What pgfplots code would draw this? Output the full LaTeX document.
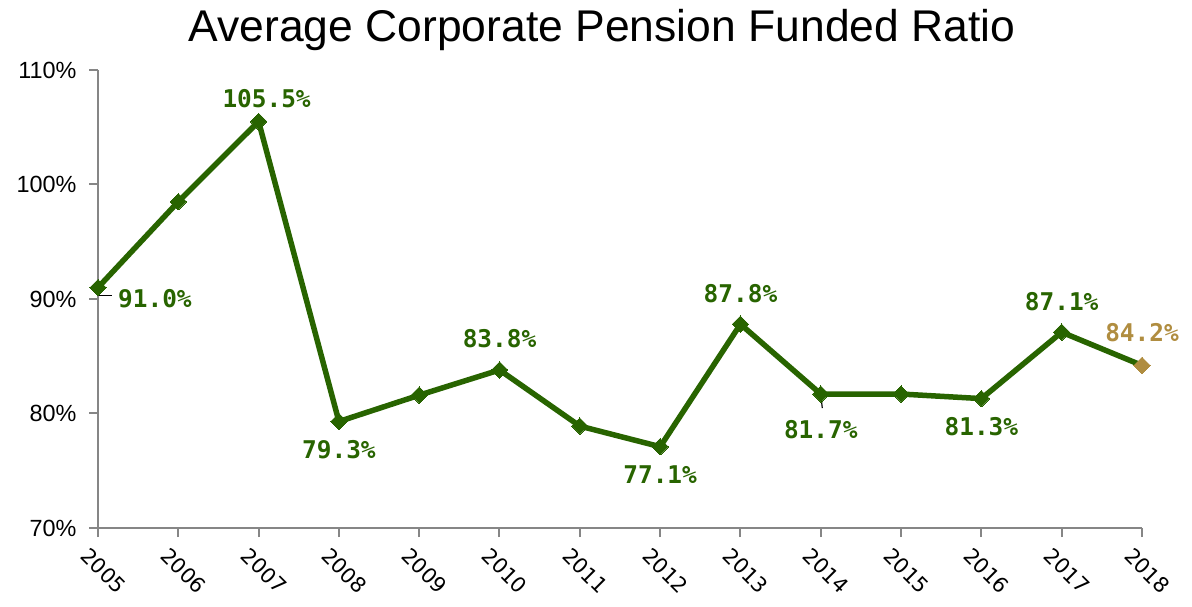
\documentclass[border=0pt]{standalone}
\usepackage{pgfplots}
\pgfplotsset{compat=1.18}
\usepackage{fontspec}
\setmainfont{Liberation Sans}
\newfontfamily\labfont{DejaVu Sans Mono}
\newfontfamily\xfont{DejaVu Sans}
\definecolor{lgreen}{RGB}{40,100,0}
\definecolor{lgold}{RGB}{176,141,64}
\definecolor{axgray}{RGB}{134,134,134}
\pgfplotsset{lab/.style={draw=none, mark=none, point meta=explicit symbolic,
  nodes near coords={\pgfplotspointmeta\%},
  nodes near coords style={anchor=base, inner sep=0pt, text=lgreen, font=\labfont\bfseries\fontsize{24.5}{25}\selectfont, #1}}}
\begin{document}
\begin{tikzpicture}
\useasboundingbox (0bp,0bp) rectangle (1192bp,607bp);
\node[anchor=base, inner sep=0pt, font=\fontsize{44.6}{46}\selectfont] at (602bp,565bp) {Average Corporate Pension Funded Ratio};
\begin{axis}[at={(98bp,79bp)}, anchor=south west, scale only axis,
  width=1044bp, height=458bp,
  xmin=2005, xmax=2018, ymin=70, ymax=110,
  axis x line*=bottom, axis y line*=left,
  axis line style={axgray, line width=2bp},
  every tick/.style={axgray, line width=2bp},
  major tick length=9bp, tick align=outside,
  xtick={2005,...,2018}, ytick={70,80,...,110},
  /pgf/number format/1000 sep={},
  /pgf/number format/assume math mode=true,
  yticklabel={\pgfmathprintnumber{\tick}\%},
  yticklabel style={font=\fontsize{23.5}{24}\selectfont, text=black, xshift=-9bp},
  xticklabel style={rotate=-45, anchor=north west, yshift=-11bp, xshift=0bp, inner sep=1bp, font=\xfont\fontsize{21}{21}\selectfont, text=black},
  clip=false,
]
% main series
\addplot[lgreen, line width=5.5bp, mark=square*, mark size=5.8bp, mark indices={1,...,13},
  mark options={rotate=45, line width=0pt, fill=lgreen, draw=lgreen}]
  table {
x y
2005 91.0
2006 98.5
2007 105.5
2008 79.3
2009 81.6
2010 83.8
2011 78.9
2012 77.1
2013 87.8
2014 81.7
2015 81.7
2016 81.3
2017 87.1
2018 84.2
};
\addplot[only marks, mark=square*, mark size=5.8bp, mark options={rotate=45, fill=lgold, draw=lgold, line width=0pt}]
  table {
x y
2018 84.2
};
% leader lines
\draw[black, line width=1.2bp] (axis cs:2005,91.0) -- ++(0bp,-8bp) -- ++(14bp,0bp);
\draw[black, line width=1.2bp] (axis cs:2014,81.7) -- ++(1.5bp,-14bp);
% labels above
\addplot[lab={yshift=22bp}] table[meta=l] {
x y l
2010 83.8 83.8
2013 87.8 87.8
2017 87.1 87.1
};
\addplot[lab={yshift=14bp, xshift=8bp}] table[meta=l] {
x y l
2007 105.5 105.5
};
% labels below
\addplot[lab={yshift=-37bp}] table[meta=l] {
x y l
2008 79.3 79.3
2012 77.1 77.1
2016 81.3 81.3
};
\addplot[lab={yshift=-44bp}] table[meta=l] {
x y l
2014 81.7 81.7
};
\addplot[lab={anchor=base west, yshift=-20bp, xshift=20bp}] table[meta=l] {
x y l
2005 91.0 91.0
};
\addplot[lab={yshift=24bp, text=lgold}] table[meta=l] {
x y l
2018 84.2 84.2
};
\end{axis}
\end{tikzpicture}
\end{document}
